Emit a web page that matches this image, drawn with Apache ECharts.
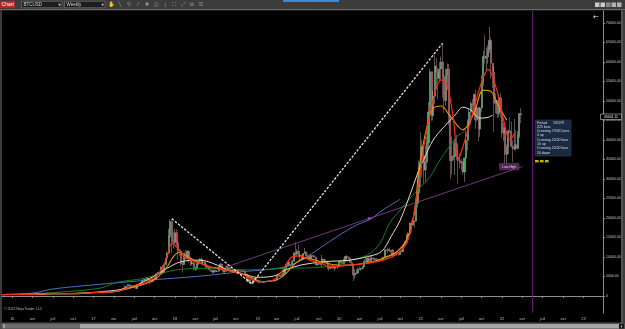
<!DOCTYPE html>
<html><head><meta charset="utf-8">
<script src="https://cdn.jsdelivr.net/npm/echarts@6/dist/echarts.min.js"></script>
<style>html,body{margin:0;padding:0;background:#3b3b3b;overflow:hidden}#c{width:625px;height:329px}</style>
</head><body><div id="c"></div>
<script>
// ---- weekly categories ----
const startDate = '2015-11-23';
const weekCount = 384;
const firstOpen = 323;

// ---- weekly candles: close / high / low per year ----
const c15 = [371,395,435,442,422,430];
const h15 = [375,400,465,465,455,435];
const l15 = [315,355,390,428,415,415];
const c16 = [447,383,403,368, 376,400,438,433, 411,416,411,417, 420,421,430,450,460, 460,456,443,530, 580,665,762,665, 675,650,665,660,625, 590,570,582,575, 608,609,608,602, 612,618,640,655,700, 704,705,745,735, 766,775,790,892,1000];
const h16 = [460,455,410,400, 385,405,445,445, 440,420,418,420, 422,424,432,452,468, 465,462,458,535, 590,702,780,780, 705,680,680,668,660, 615,600,592,585, 615,632,612,610, 615,620,642,658,700, 740,715,750,755, 770,775,795,902,1000];
const l16 = [420,365,375,365, 365,370,398,412, 400,408,405,410, 412,414,420,426,447, 438,449,435,440, 520,574,655,550, 625,608,645,650,620, 480,555,567,570, 570,600,600,592, 601,608,613,627,650, 680,688,686,723, 728,755,770,791,883];
const c17 = [910,820,920,920,1010, 995,1050,1180,1270, 1230,1020,970,1080, 1190,1170,1250,1350, 1550,1750,2050,2050,2500, 2900,2600,2550,2480, 2520,1930,2750,2740,3250, 4050,4100,4350,4550, 4220,3700,3780,4380, 4600,5680,6000,5900,7400, 5950,8000,9700,11000, 15300,19100,13900,13800];
const h17 = [1150,920,935,930,1040, 1060,1060,1200,1290, 1330,1260,1060,1110, 1210,1220,1260,1360, 1560,1800,2100,2760,2560, 2990,2980,2760,2600, 2630,2550,2900,2850,3300, 4200,4480,4400,4980, 4700,4350,4130,4410, 4650,5850,6200,6190,7600, 7900,8200,9750,11400, 17200,19700,19800,16300];
const l17 = [880,750,810,880,915, 930,980,1050,1170, 1000,950,890,960, 1060,1150,1160,1240, 1350,1540,1700,1900,2000, 2450,2100,2500,2300, 2450,1840,1840,2450,2600, 3200,3950,3980,4300, 3970,2980,3500,3780, 4150,4600,5100,5400,6100, 5600,5950,8000,9000, 11000,15000,11000,12200];
const c18 = [16200,13600,11600,11500,8200, 8100,10300,9600,11500, 9500,8200,8500,6900, 7000,8300,8900,9400,8600, 8700,8200,7350,7650, 6700,6450,6150,6600, 6250,6350,7400,8200,7000, 6300,6400,6700,7300, 6300,6500,6700,6600, 6550,6400,6500,6400,6400, 6400,5600,3800,4100, 3300,3200,4050,3850,4050];
const h18 = [17250,17100,14100,12000,11900, 9000,11200,11800,11700, 11600,9900,9200,8600, 7500,8400,9000,9750,9970, 9400,8900,8400,7800, 7750,6800,6800,6650, 6800,6500,7600,8500,8250, 7150,6600,6900,7400, 7400,6600,6800,6800, 6700,6700,6700,6500,6500, 6600,6400,5600,4500, 4300,3550,4200,4200,4100];
const l18 = [13000,12800,9200,10300,7700, 6000,8000,9300,9400, 8400,7700,7900,6600, 6450,6600,7900,8700,8400, 8200,7900,7100,7100, 6600,6300,5800,5800, 6050,6100,6300,7300,6900, 5900,5900,6200,6650, 6200,6200,6100,6350, 6500,6100,6350,6300,6300, 6300,5200,3500,3600, 3200,3120,3200,3550,3700];
const c19 = [3550,3550,3550,3450, 3650,3620,3850,3830, 3900,4000,4000,4150, 5100,5050,5300,5200,5750, 7000,8000,8700,8000, 8000,8900,11000,10800, 11500,10200,10500,9500,10900, 11300,10300,10100,9600, 10400,10300,10000,8000,8150, 8300,8200,9500,9200, 8800,8500,7000,7400, 7500,7100,7500,7400,7750];
const h19 = [4100,3700,3650,3600, 3680,3720,4200,3900, 3950,4050,4100,4200, 5300,5400,5400,5600,5900, 7500,8300,8900,9000, 8200,9300,11200,13800, 12000,13200,10800,10600,11000, 12300,11400,10900,10700, 10900,10500,10300,10000,8500, 8800,8400,10500,9550, 9400,8900,8500,7800, 7700,7500,7500,7700,7800];
const l19 = [3500,3500,3450,3350, 3370,3560,3600,3680, 3700,3850,3950,3900, 4100,4900,5000,5000,5200, 5700,6600,7500,7500, 7500,7800,8900,10000, 10100,9900,9100,9100,9300, 10900,9500,9800,9350, 9600,10000,9800,7800,7800, 7900,7900,7300,8900, 8700,8400,6500,6900, 7100,7000,6450,7100,6900];
const c20 = [8900,8700,8350,9350, 10150,9900,9650,8550, 8050,5350,5800,5900,6850, 6900,7100,7550,8900, 8700,9700,8900,9450, 9650,9350,9300,9050, 9250,9250,9200,9950,11800, 11700,11900,11650,11700, 10250,10700,11100,10750, 10650,11350,11450,13050,13800, 15500,15950,18650,18200, 19150,19250,23800,26500,33000];
const h20 = [8950,9200,8800,9600, 10200,10500,10200,9700, 9200,8150,6900,6850,7300, 7450,7300,7700,9450, 10000,9900,9900,10400, 10350,9980,9800,9800, 9350,9450,9350,10000,12000, 11900,12400,12450,11800, 12100,10800,11200,11100, 10950,11550,11700,13250,14100, 15950,16300,18800,19400, 19900,19400,24200,28400,34800];
const l20 = [7750,8500,8250,8250, 9150,9700,9300,8450, 8000,3850,4450,5700,5900, 6700,6500,6800,7500, 8600,8200,8800,8650, 9300,9150,9200,8850, 8900,9100,9050,9150,9900, 10700,11100,11300,11150, 9900,9900,10400,10150, 10400,10550,11200,11400,12900, 13300,14900,15900,16300, 18000,17600,19000,22700,26200];
const c21 = [38200,36000,32300,34300, 39300,47200,57500,46300, 51200,59000,57500,55800, 58200,60000,56200,50100,56600, 58200,46400,34700,35800, 35800,39100,35600,34700, 34200,34300,31800,35400,39900, 44600,47100,49300,48900, 51700,45200,48300,42800, 48200,55000,61500,61000,61300, 63300,65500,59700,57300, 49400,50100,46700,50800,47300];
const h21 = [41950,40100,37800,38500, 40900,49700,58300,57500, 52700,61800,61000,58500, 60000,61400,64800,57000,58300, 59600,59500,46500,40900, 39500,40000,41300,35700, 36600,35100,34600,35400,42600, 45300,48100,49800,50500, 51900,52900,48800,47400, 48400,56600,62900,67000,63700, 64300,69000,66300,59400, 59000,51900,49500,51800,52100];
const l21 = [28000,30400,28800,29200, 32300,37400,46200,44900, 45000,49300,53300,50400, 54900,55500,50900,47000,48800, 53000,43800,30000,31100, 34800,31000,34800,28800, 32700,32100,31100,29300,35300, 37300,43900,43900,46300, 46700,42900,44700,39600, 40800,47100,53900,59600,58000, 59500,62300,55700,53300, 42000,46800,45600,45800,45700];
const c22 = [41800,43100,36300,38100, 42400,42200,38400,37700, 38800,37800,41300,46800,46400];
const h22 = [47500,44400,43500,38900, 42600,45800,44800,40000, 45400,42500,42300,46900,48200];
const l22 = [40600,39700,34000,32900, 36300,41700,38000,34300, 37400,37200,37600,40500,44300];

// ---- indicator lines: [week, price] ----
const redLine = [['2015-11-23',370],['2016-01-04',420],['2016-04-04',420],['2016-06-20',600],['2016-08-01',650],['2016-09-26',600],['2016-11-21',700],['2017-01-02',850],['2017-02-06',950],['2017-04-10',1200],['2017-05-22',1800],['2017-06-26',2600],['2017-08-14',3200],['2017-09-11',4100],['2017-10-23',6000],['2017-11-27',10100],['2017-12-18',13500],['2018-01-08',12600],['2018-02-05',10500],['2018-03-12',9200],['2018-04-23',8400],['2018-06-04',7500],['2018-07-23',7100],['2018-09-17',6200],['2018-11-05',5400],['2018-12-17',4100],['2019-01-28',3700],['2019-03-18',4100],['2019-04-29',6700],['2019-06-10',10100],['2019-07-15',10300],['2019-08-26',9200],['2019-10-14',8500],['2019-11-25',7500],['2020-02-24',7900],['2020-05-11',8400],['2020-07-20',9200],['2020-09-21',10900],['2020-11-02',13500],['2020-11-30',19500],['2020-12-21',27200],['2021-01-04',32300],['2021-01-18',38300],['2021-03-01',50300],['2021-04-05',55400],['2021-05-03',53700],['2021-05-31',45100],['2021-06-21',34900],['2021-07-12',38300],['2021-08-16',45100],['2021-09-27',53700],['2021-11-01',58100],['2021-12-06',53700],['2022-01-10',45100],['2022-02-07',40000],['2022-02-28',41700]];
const orangeLine = [['2015-11-23',360],['2016-01-04',400],['2016-05-02',440],['2016-07-04',600],['2016-10-03',620],['2016-12-05',740],['2017-02-06',950],['2017-04-17',1200],['2017-06-12',2000],['2017-08-14',3000],['2017-10-09',4500],['2017-11-27',7500],['2017-12-25',10100],['2018-01-22',11200],['2018-02-26',10100],['2018-04-09',8800],['2018-06-04',7500],['2018-08-20',6700],['2018-10-22',5800],['2018-12-17',4500],['2019-01-28',3700],['2019-04-01',4100],['2019-05-13',5800],['2019-06-24',8400],['2019-08-12',9700],['2019-10-14',8800],['2020-01-06',7900],['2020-05-04',8400],['2020-07-20',9700],['2020-09-21',11400],['2020-11-02',14400],['2020-11-30',19500],['2020-12-14',24600],['2020-12-28',33000],['2021-02-01',43400],['2021-03-01',48100],['2021-04-05',48700],['2021-05-17',46000],['2021-07-12',42600],['2021-08-30',46800],['2021-10-11',52800],['2021-11-15',52400],['2021-12-20',48500],['2022-01-24',45100]];
const whiteLine = [['2015-11-23',380],['2016-03-07',420],['2016-06-06',550],['2016-09-05',620],['2016-12-05',800],['2017-02-06',1100],['2017-04-17',1500],['2017-06-26',2400],['2017-09-11',4500],['2017-11-27',7100],['2018-01-29',8800],['2018-04-23',9200],['2018-06-18',8400],['2018-09-17',6200],['2018-11-19',5400],['2018-12-31',4800],['2019-03-18',5100],['2019-05-13',6700],['2019-07-15',7900],['2019-11-04',8800],['2020-02-24',9200],['2020-05-11',10100],['2020-07-13',11400],['2020-08-24',15200],['2020-10-05',19500],['2020-11-30',28000],['2020-12-28',32500],['2021-01-18',35000],['2021-03-01',40000],['2021-04-19',43400],['2021-06-07',46400],['2021-07-12',48400],['2021-08-16',47700],['2021-09-27',45600],['2021-11-01',45800],['2021-11-22',46400]];
const greenLine = [['2015-11-23',350],['2016-03-07',450],['2016-08-01',1000],['2017-01-30',2000],['2017-04-17',3500],['2017-06-12',4000],['2017-08-14',4500],['2018-01-08',6700],['2018-06-04',7100],['2018-12-03',6700],['2019-05-13',7100],['2019-11-04',7500],['2020-02-24',9200],['2020-05-11',10500],['2020-07-06',13500],['2020-08-17',18600],['2020-10-05',22100],['2020-11-16',25000],['2021-02-15',30600],['2021-03-22',34000],['2021-06-14',40800],['2021-07-19',42100]];
const blueLine = [['2015-11-23',330],['2016-04-11',800],['2016-07-04',1800],['2017-01-30',3000],['2017-09-11',4100],['2018-04-23',5100],['2018-10-22',6200],['2019-04-15',7200],['2019-07-15',9000],['2019-10-14',12400],['2020-01-06',15600],['2020-03-23',18200],['2020-05-25',19700],['2020-07-20',22100],['2020-10-05',24800]];
const purpleLine = [['2018-08-20',7500],['2022-04-04',33200]];
const dashLine = [['2017-12-18',19800],['2018-12-10',3150],['2021-04-12',64800]];
const markerPts = [['2018-08-20',7500],['2020-05-18',19900]];
const vLineDate = '2022-05-16';
const yTicks = [0,5000,10000,15000,20000,25000,30000,35000,40000,45000,50000,55000,60000,65000,70000];
const monthNames = {3:'avr',6:'juil',9:'oct'};
const lastPrice = '46441.11';
const infoLines = ['Period      1/5/2/9','225 bars','Crossing 7/5/20 bars','4 up','Crossing 20/20 bars','10 up','Crossing 20/20 bars','10 down'];

// ---- build ----
const WEEK = 7*864e5;
const t0 = Date.parse(startDate + 'T00:00:00Z');
const categories = [];
for (let i = 0; i < weekCount; i++) categories.push(new Date(t0 + i*WEEK).toISOString().slice(0,10));
const cat = d => categories[Math.round((Date.parse(d + 'T00:00:00Z') - t0)/WEEK)];
const toSeries = arr => arr.map(p => [cat(p[0]), p[1]]);

const closes = [].concat(c15,c16,c17,c18,c19,c20,c21,c22);
const highs = [].concat(h15,h16,h17,h18,h19,h20,h21,h22);
const lows = [].concat(l15,l16,l17,l18,l19,l20,l21,l22);
const candles = closes.map((c, i) => {
  const o = i ? closes[i-1] : firstOpen;
  return [o, c, Math.min(lows[i], o, c), Math.max(highs[i], o, c)];
});

const isQuarter = (idx, val) => { const d = new Date(val + 'T00:00:00Z'); return d.getUTCDate() <= 7 && d.getUTCMonth() % 3 === 0; };
const fmtX = val => { const d = new Date(val + 'T00:00:00Z'); const m = d.getUTCMonth(); return m === 0 ? String(d.getUTCFullYear()).slice(2) : monthNames[m]; };

const FF = 'Liberation Sans';
const G = [];
function rect(x,y,w,h,fill,stroke,z,lw){ G.push({type:'rect', silent:true, z: z===undefined?100:z, shape:{x,y,width:w,height:h}, style:{fill: fill||'none', stroke: stroke||null, lineWidth: stroke?(lw||0.6):0}}); }
function txt(x,y,text,size,fill,align,font){ G.push({type:'text', silent:true, z:110, style:{x,y,text,fontSize:size,fill,fontFamily:font||FF,align:align||'left',verticalAlign:'middle'}}); }
function line(x1,y1,x2,y2,color,w,z){ G.push({type:'line', silent:true, z: z===undefined?100:z, shape:{x1,y1,x2,y2}, style:{stroke:color, lineWidth:w||1}}); }

// panel backgrounds
rect(2,10.5,620,312.5,'#000',null,-10);
// toolbar
rect(0,0,625,9,'#3c3c3c',null,100);
line(0,9.5,625,9.5,'#676767',1);
rect(0,0.8,15,7.4,'#b3262a');
txt(1.6,4.6,'Chart',5,'#ffffff');
rect(21.5,1.3,40.5,6.4,'#1d1d1d','#7c7c7c');
txt(23.5,4.6,'BTCUSD',4.5,'#cfcfcf');
txt(59.5,4.6,'▼',3.5,'#bbbbbb','center','DejaVu Sans');
rect(64.5,1.3,40.5,6.4,'#1d1d1d','#7c7c7c');
txt(66.5,4.6,'Weekly',4.5,'#cfcfcf');
txt(102.5,4.6,'▼',3.5,'#bbbbbb','center','DejaVu Sans');
const icons = ['✋','╲','⚲','⁄','✚','⎙','⤓','⛶','⤢','⧉','☰'];
icons.forEach((g,i) => txt(111 + i*9, 4.6, g, 5.5, '#9c9c9c', 'center', 'DejaVu Sans'));
rect(283,0,56,2,'#3a8ad8');
rect(295,4,325,1,'#555555',null,99);
rect(595,2.5,4.5,4.5,'#c9c9c9'); rect(600.5,2.5,4.5,4.5,'#c9c9c9'); rect(606,2.5,4.5,4.5,'#8a8a8a');
rect(611.5,2.5,4.5,4.5,'#b0b0b0'); rect(617,2.5,4.5,4.5,'#b0b0b0');
// frame lines
line(621.8,10.5,621.8,323,'#9a9a9a',0.8);
line(2,323,622,323,'#6e6e6e',0.8);
// scrollbar
rect(0,323.5,625,5.5,'#4e4e4e');
rect(2,324,78,4.5,'#6c6c6c');
rect(80,324,539,4.5,'#a6a6a6');
rect(619,324,5,4.5,'#1a1a1a');
line(4,324.2,4,328.2,'#eeeeee',0.8);
line(621.5,325.5,621.5,327.5,'#eeeeee',0.8);
// texts on chart
txt(4,309.5,'© 2022 NinjaTrader, LLC',3.5,'#bdbdbd');
txt(596,17.5,'←',7,'#f0f0f0','center','DejaVu Sans');
rect(600.5,114,21,5.5,'#000','#c8c8c8',102,0.6);
txt(611,116.8,lastPrice,3.4,'#e8e8e8','center');
// info box
rect(535,120,36,36,'#1b2940','#2d3f60',100,0.6);
infoLines.forEach((s,i) => txt(537, 122.6 + i*4.3, s, 3.5, '#d9dce8'));
rect(535,160,3.6,2.4,'#c8b400'); rect(540,160,3.6,2.4,'#c8b400'); rect(545,160,3.6,2.4,'#c8b400');
// Low-High tag
rect(499.5,163.3,19.5,6.6,'#4a2650','#6a3a72',100,0.5);
txt(509.2,166.7,'Low-High',3.4,'#e6c8ea','center');

const lineS = (name, data, color, w, z) => ({
  name, type:'line', data: toSeries(data), smooth:0.35, symbol:'none', z,
  lineStyle:{color, width:w}, silent:true
});

const chart = echarts.init(document.getElementById('c'), null, {renderer:'canvas'});
chart.setOption({
  animation:false,
  backgroundColor:'#3b3b3b',
  textStyle:{fontFamily:FF},
  grid:{left:2, right:22, top:11, bottom:16, containLabel:false},
  xAxis:{
    type:'category', data:categories, boundaryGap:true,
    axisLine:{show:true, lineStyle:{color:'#8c8c8c', width:1}},
    axisTick:{show:true, interval:isQuarter, alignWithLabel:true, length:2, lineStyle:{color:'#a0a0a0', width:0.8}},
    axisLabel:{interval:isQuarter, formatter:fmtX, color:'#bdbdbd', fontSize:4, margin:4, fontFamily:FF},
    splitLine:{show:false}
  },
  yAxis:{
    type:'value', position:'right', min:-4359, max:73077, scale:false,
    splitLine:{show:false},
    axisLine:{show:true, lineStyle:{color:'#8c8c8c', width:1}},
    axisTick:{show:true, length:2, customValues:yTicks, lineStyle:{color:'#a0a0a0', width:0.8}},
    axisLabel:{customValues:yTicks, color:'#c8c8c8', fontSize:3.5, margin:3, fontFamily:FF,
      formatter: v => v === 0 ? '0' : v.toFixed(2)}
  },
  series:[
    {type:'candlestick', data:candles, barWidth:1.6, z:1, silent:true,
      itemStyle:{color:'#3fb05a', color0:'#d8384a', borderColor:'#a8b8a8', borderColor0:'#b89098', borderWidth:0.5},
      markLine:{symbol:'none', silent:true, label:{show:false}, animation:false,
        lineStyle:{color:'#5c1a66', width:1, type:'solid'}, data:[{xAxis:cat(vLineDate)}]}},
    lineS('blue', blueLine, '#4d7fd0', 0.9, 3),
    lineS('green', greenLine, '#178a1e', 0.9, 3),
    lineS('purple', purpleLine, '#8c4a96', 0.8, 3),
    lineS('white', whiteLine, '#e6dcc8', 1, 4),
    lineS('orange', orangeLine, '#e09a1a', 1.1, 5),
    lineS('red', redLine, '#ff2b12', 1.2, 6),
    {type:'line', data:toSeries(dashLine), symbol:'none', z:7, silent:true,
      lineStyle:{color:'#e4e4e4', width:1.3, type:[2.5,1.5]}},
    {type:'scatter', data:toSeries(markerPts), symbol:'rect', symbolSize:2.6, z:8, silent:true,
      itemStyle:{color:'#c544d6'}}
  ],
  graphic:G
});
</script></body></html>
